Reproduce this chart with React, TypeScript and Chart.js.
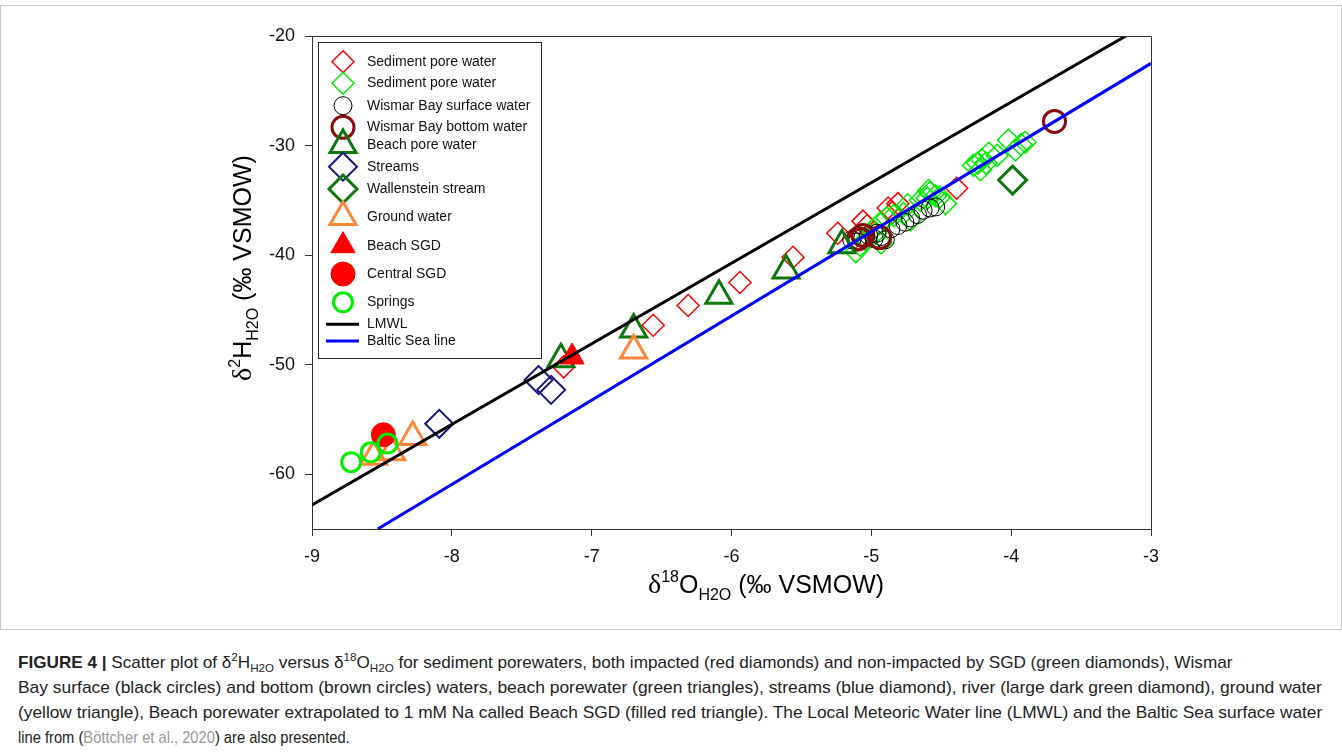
import React, { useEffect, useRef } from "react";
import { Chart, registerables } from "chart.js";
Chart.register(...registerables);

// ---- tick values ----
const xTicks = [-9, -8, -7, -6, -5, -4, -3];
const yTicks = [-60, -50, -40, -30, -20];

// ---- series (δ18O , δ2H) ----
const sedRedX = [-7.2, -6.56, -6.31, -5.94, -5.56, -5.24, -5.1, -5.06, -5.03, -4.88, -4.81, -4.85, -4.39];
const sedRedY = [-50.2, -46.4, -44.6, -42.5, -40.2, -38.0, -38.6, -36.9, -37.3, -35.7, -35.3, -36.1, -33.9];

const sedGreenX = [-5.11, -5.08, -5.03, -4.99, -4.94, -4.89, -4.84, -4.77, -4.74, -4.72, -4.65, -4.6, -4.58, -4.54, -4.47, -4.59, -4.51, -4.27, -4.24, -4.22, -4.21, -4.18, -4.16, -4.1, -4.02, -3.97, -3.93, -3.9, -4.97, -4.93];
const sedGreenY = [-39.7, -39.1, -38.6, -37.7, -37.1, -36.6, -36.4, -36.2, -35.4, -36.8, -35.0, -34.8, -34.3, -34.6, -35.3, -34.1, -34.7, -31.8, -31.6, -32.2, -31.3, -31.6, -30.7, -30.9, -29.5, -30.4, -29.9, -29.7, -38.0, -38.9];

const surfX = [-5.14, -5.1, -5.06, -5.02, -4.96, -4.93, -4.9, -4.86, -4.81, -4.76, -4.72, -4.67, -4.63, -4.58, -4.54, -4.98];
const surfY = [-38.6, -38.8, -38.4, -38.2, -38.0, -38.3, -38.6, -37.6, -37.3, -37.0, -36.6, -36.3, -35.9, -35.7, -35.6, -38.5];

const bottomX = [-5.09, -5.06, -4.94, -3.69];
const bottomY = [-38.5, -38.2, -38.4, -27.8];

const beachPoreX = [-7.22, -6.7, -6.09, -5.61, -5.21];
const beachPoreY = [-49.5, -46.8, -43.7, -41.4, -39.1];

const streamsX = [-8.09, -7.38, -7.29];
const streamsY = [-55.4, -51.4, -52.3];

const wallX = [-3.99];
const wallY = [-33.15];

const groundX = [-6.7, -8.56, -8.43, -8.28];
const groundY = [-48.7, -58.4, -58.0, -56.6];

const beachSgdX = [-7.14];
const beachSgdY = [-49.3];

const centralSgdX = [-8.49];
const centralSgdY = [-56.4];

const springsX = [-8.72, -8.58, -8.46];
const springsY = [-58.9, -58.0, -57.2];

const lmwlX = [-9, -3.18];
const lmwlY = [-62.8, -20];

const balticX = [-8.53, -3];
const balticY = [-65, -22.5];

const pts = (xs: number[], ys: number[]) => xs.map((x, i) => ({ x, y: ys[i] }));

const SANS = 'Arial, "Liberation Sans", sans-serif';
const SERIF = '"Liberation Serif", "Times New Roman", serif';

function drawMarker(ctx: CanvasRenderingContext2D, style: string, x: number, y: number, r: number, stroke: string, fill: string, lw: number) {
  ctx.save();
  ctx.beginPath();
  if (style === "circle") {
    ctx.arc(x, y, r, 0, Math.PI * 2);
  } else if (style === "rectRot") {
    ctx.moveTo(x, y - r);
    ctx.lineTo(x + r, y);
    ctx.lineTo(x, y + r);
    ctx.lineTo(x - r, y);
    ctx.closePath();
  } else if (style === "triangle") {
    for (let k = 0; k < 3; k++) {
      const a = (k * 2 * Math.PI) / 3;
      const px = x + Math.sin(a) * r;
      const py = y - Math.cos(a) * r;
      if (k === 0) ctx.moveTo(px, py);
      else ctx.lineTo(px, py);
    }
    ctx.closePath();
  }
  if (fill && fill !== "transparent") {
    ctx.fillStyle = fill;
    ctx.fill();
  }
  if (lw > 0) {
    ctx.lineWidth = lw;
    ctx.strokeStyle = stroke;
    ctx.stroke();
  }
  ctx.restore();
}

type Piece = { t: string; font: string; dy: number };
function drawRich(ctx: CanvasRenderingContext2D, pieces: Piece[], cx: number, baseY: number) {
  let total = 0;
  for (const p of pieces) {
    ctx.font = p.font;
    total += ctx.measureText(p.t).width;
  }
  let x = cx - total / 2;
  ctx.textAlign = "left";
  ctx.textBaseline = "alphabetic";
  for (const p of pieces) {
    ctx.font = p.font;
    ctx.fillText(p.t, x, baseY + p.dy);
    x += ctx.measureText(p.t).width;
  }
}

const legendRowsY = [61.7, 83.3, 105.7, 127.3, 145, 166.7, 189, 217, 245.7, 274, 302.3, 324.3, 341];

const framePlugin = {
  id: "frame",
  afterDraw(chart: any) {
    const { ctx, chartArea } = chart;
    const { left, right, top, bottom } = chartArea;
    ctx.save();
    ctx.strokeStyle = "#333";
    ctx.lineWidth = 1;
    ctx.beginPath();
    ctx.moveTo(left, top + 0.5);
    ctx.lineTo(right + 0.5, top + 0.5);
    ctx.lineTo(right + 0.5, bottom);
    ctx.stroke();

    // legend
    const bx = left + 6.5, by = top + 6.5, bw = 223, bh = 316;
    ctx.fillStyle = "#fff";
    ctx.fillRect(bx, by, bw, bh);
    ctx.strokeStyle = "#222";
    ctx.strokeRect(bx, by, bw, bh);
    chart.data.datasets.forEach((ds: any, i: number) => {
      const y = legendRowsY[i];
      if (ds.showLine) {
        ctx.beginPath();
        ctx.strokeStyle = ds.borderColor;
        ctx.lineWidth = ds.borderWidth;
        ctx.moveTo(left + 14, y);
        ctx.lineTo(left + 47, y);
        ctx.stroke();
      } else {
        drawMarker(ctx, ds.pointStyle, left + 31, y, ds.pointRadius, ds.pointBorderColor, ds.pointBackgroundColor, ds.pointBorderWidth);
      }
      ctx.fillStyle = "#111";
      ctx.font = `14px ${SANS}`;
      ctx.textAlign = "left";
      ctx.textBaseline = "middle";
      ctx.fillText(ds.label, left + 55, y);
    });

    // axis titles
    ctx.fillStyle = "#000";
    drawRich(
      ctx,
      [
        { t: "δ", font: `28px ${SERIF}`, dy: 0 },
        { t: "18", font: `16px ${SANS}`, dy: -11 },
        { t: "O", font: `25px ${SANS}`, dy: 0 },
        { t: "H2O", font: `16px ${SANS}`, dy: 7 },
        { t: " (‰ VSMOW)", font: `25px ${SANS}`, dy: 0 },
      ],
      766,
      593
    );
    ctx.save();
    ctx.translate(251, 268);
    ctx.rotate(-Math.PI / 2);
    drawRich(
      ctx,
      [
        { t: "δ", font: `28px ${SERIF}`, dy: 0 },
        { t: "2", font: `16px ${SANS}`, dy: -11 },
        { t: "H", font: `25px ${SANS}`, dy: 0 },
        { t: "H2O", font: `16px ${SANS}`, dy: 7 },
        { t: " (‰ VSMOW)", font: `25px ${SANS}`, dy: 0 },
      ],
      0,
      0
    );
    ctx.restore();
    ctx.restore();
  },
};

function scatterSet(label: string, xs: number[], ys: number[], style: string, r: number, color: string, fill: string, lw: number, order: number) {
  return {
    label,
    data: pts(xs, ys),
    showLine: false,
    pointStyle: style,
    pointRadius: r,
    pointBorderColor: color,
    pointBackgroundColor: fill,
    pointBorderWidth: lw,
    borderColor: color,
    backgroundColor: fill,
    order,
  };
}

const captionWidths = [1214, 1304, 1304, 332];

export default function App() {
  const ref = useRef<HTMLCanvasElement | null>(null);
  const lineRefs = useRef<(HTMLSpanElement | null)[]>([]);

  useEffect(() => {
    // condensed look of the original caption: fit each line to its width in the figure
    lineRefs.current.forEach((el, i) => {
      if (!el) return;
      const w = el.scrollWidth;
      if (w > 0) el.style.transform = `scaleX(${captionWidths[i] / w})`;
    });
  }, []);

  useEffect(() => {
    if (!ref.current) return;
    const datasets: any[] = [
      scatterSet("Sediment pore water", sedRedX, sedRedY, "rectRot", 11, "#ff0000", "transparent", 1.5, 20),
      scatterSet("Sediment pore water", sedGreenX, sedGreenY, "rectRot", 11, "#00ee00", "transparent", 1.5, 19),
      scatterSet("Wismar Bay surface water", surfX, surfY, "circle", 9, "#000000", "transparent", 1, 18),
      scatterSet("Wismar Bay bottom water", bottomX, bottomY, "circle", 11, "#860c0c", "transparent", 3, 17),
      scatterSet("Beach pore water", beachPoreX, beachPoreY, "triangle", 15, "#0d770d", "transparent", 3, 16),
      scatterSet("Streams", streamsX, streamsY, "rectRot", 14, "#16167c", "transparent", 2, 15),
      scatterSet("Wallenstein stream", wallX, wallY, "rectRot", 14, "#0d770d", "transparent", 3, 14),
      scatterSet("Ground water", groundX, groundY, "triangle", 15, "#ff8636", "transparent", 3, 13),
      scatterSet("Beach SGD", beachSgdX, beachSgdY, "triangle", 14, "#ff0000", "#ff0000", 1, 12),
      scatterSet("Central SGD", centralSgdX, centralSgdY, "circle", 12, "#ff0000", "#ff0000", 1, 11),
      scatterSet("Springs", springsX, springsY, "circle", 9.5, "#00ee00", "transparent", 3, 10),
      { label: "LMWL", data: pts(lmwlX, lmwlY), showLine: true, borderColor: "#000000", borderWidth: 3, pointRadius: 0, order: 1 },
      { label: "Baltic Sea line", data: pts(balticX, balticY), showLine: true, borderColor: "#0000ff", borderWidth: 3, pointRadius: 0, order: 0 },
    ];
    const chart = new Chart(ref.current, {
      type: "scatter",
      data: { datasets },
      options: {
        animation: false,
        responsive: false,
        devicePixelRatio: 1,
        events: [],
        layout: { padding: { left: 0, top: 36, right: 191, bottom: 0 } },
        plugins: { legend: { display: false }, tooltip: { enabled: false }, title: { display: false } },
        scales: {
          x: {
            type: "linear",
            min: -9,
            max: -3,
            afterBuildTicks: (s: any) => {
              s.ticks = xTicks.map((v) => ({ value: v }));
            },
            afterFit: (s: any) => {
              s.height = 103;
            },
            ticks: { color: "#111", font: { family: SANS, size: 18 }, padding: 10 },
            grid: { display: true, drawOnChartArea: false, drawTicks: true, tickLength: 7, color: "#333" },
            border: { display: true, color: "#333", width: 1 },
          },
          y: {
            type: "linear",
            min: -65,
            max: -20,
            afterBuildTicks: (s: any) => {
              s.ticks = yTicks.map((v) => ({ value: v }));
            },
            afterFit: (s: any) => {
              s.width = 312;
            },
            ticks: { color: "#111", font: { family: SANS, size: 18 }, padding: 10 },
            grid: { display: true, drawOnChartArea: false, drawTicks: true, tickLength: 7, color: "#333" },
            border: { display: true, color: "#333", width: 1 },
          },
        },
      },
      plugins: [framePlugin],
    } as any);
    return () => chart.destroy();
  }, []);

  const sup = { fontSize: "0.68em", verticalAlign: "super", lineHeight: 0 } as React.CSSProperties;
  const sub = { fontSize: "0.68em", verticalAlign: "sub", lineHeight: 0 } as React.CSSProperties;
  const rowStyle: React.CSSProperties = { height: 25, lineHeight: "25px", whiteSpace: "nowrap" };
  const spanStyle: React.CSSProperties = { display: "inline-block", whiteSpace: "nowrap", transformOrigin: "0 50%" };
  const setRef = (i: number) => (el: HTMLSpanElement | null) => {
    lineRefs.current[i] = el;
  };

  return (
    <div style={{ position: "absolute", left: 0, top: 0, width: 1342, height: 752, background: "#fff", overflow: "hidden" }}>
      <div style={{ position: "absolute", left: 0, top: 5, width: 1340, height: 623, border: "1px solid #c8c8c8" }} />
      <canvas ref={ref} width={1342} height={632} style={{ position: "absolute", left: 0, top: 0, width: 1342, height: 632 }} />
      <div
        style={{
          position: "absolute",
          left: 18,
          top: 650,
          width: 1304,
          fontFamily: SANS,
          fontSize: 17,
          color: "#222",
        }}
      >
        <div style={rowStyle}>
          <span ref={setRef(0)} style={spanStyle}>
            <b>FIGURE 4 |</b> Scatter plot of δ<span style={sup}>2</span>H<span style={sub}>H2O</span> versus δ<span style={sup}>18</span>O<span style={sub}>H2O</span> for sediment porewaters, both impacted (red diamonds) and non-impacted by SGD (green diamonds), Wismar
          </span>
        </div>
        <div style={rowStyle}>
          <span ref={setRef(1)} style={spanStyle}>
            Bay surface (black circles) and bottom (brown circles) waters, beach porewater (green triangles), streams (blue diamond), river (large dark green diamond), ground water
          </span>
        </div>
        <div style={rowStyle}>
          <span ref={setRef(2)} style={spanStyle}>
            (yellow triangle), Beach porewater extrapolated to 1 mM Na called Beach SGD (filled red triangle). The Local Meteoric Water line (LMWL) and the Baltic Sea surface water
          </span>
        </div>
        <div style={rowStyle}>
          <span ref={setRef(3)} style={spanStyle}>
            line from (<span style={{ color: "#999" }}>Böttcher et al., 2020</span>) are also presented.
          </span>
        </div>
      </div>
    </div>
  );
}
